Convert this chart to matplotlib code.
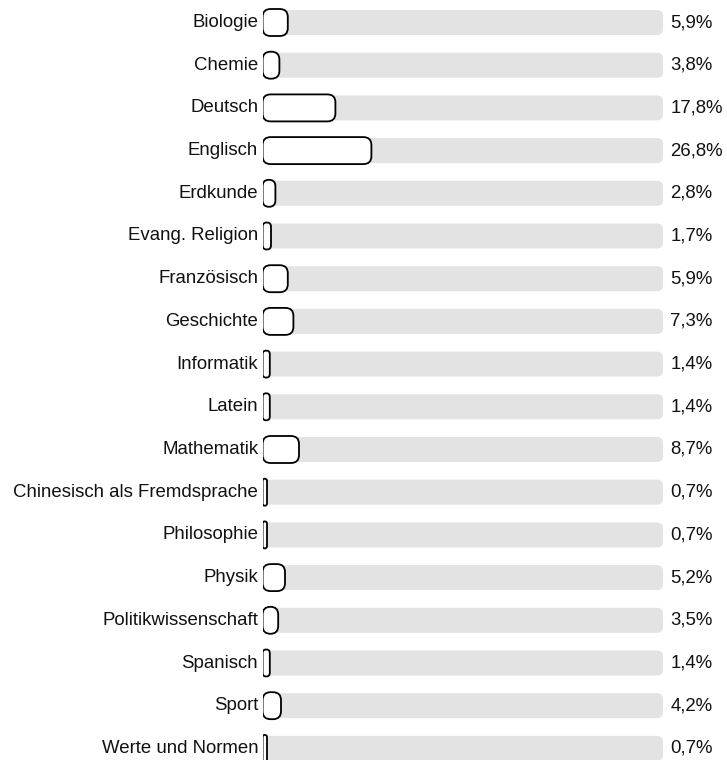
import numpy as np
import matplotlib
matplotlib.use("Agg")
import matplotlib.pyplot as plt
from matplotlib.patches import FancyBboxPatch

plt.rcParams['font.family'] = ['Liberation Sans', 'DejaVu Sans']

faecher = ["Biologie", "Chemie", "Deutsch", "Englisch", "Erdkunde",
           "Evang. Religion", "Französisch", "Geschichte", "Informatik",
           "Latein", "Mathematik", "Chinesisch als Fremdsprache",
           "Philosophie", "Physik", "Politikwissenschaft", "Spanisch",
           "Sport", "Werte und Normen"]
anteil = [5.9, 3.8, 17.8, 26.8, 2.8, 1.7, 5.9, 7.3, 1.4, 1.4, 8.7,
          0.7, 0.7, 5.2, 3.5, 1.4, 4.2, 0.7]

W, H = 727, 760
fig = plt.figure(figsize=(W / 100, H / 100), dpi=100)
# axes: x 0..100 spans the grey track (263..663 px)
ax = fig.add_axes([263 / W, 0, 400 / W, 1])
step = 42.7
top = 22.5
ax.set_xlim(0, 100)
ax.set_ylim((H - top) / step, -top / step)
ax.axis('off')

px_x = 4.0          # px per x unit
px_y = step         # px per y unit
aspect = px_x / px_y

track_h = 25 / px_y
bar_h = 27 / px_y

for i, (name, val) in enumerate(zip(faecher, anteil)):
    tr = FancyBboxPatch((0, i - track_h / 2), 100, track_h,
                        boxstyle="round,pad=0,rounding_size=1.5",
                        mutation_aspect=aspect,
                        fc="#e3e3e3", ec="none", zorder=1)
    ax.add_patch(tr)
    w = val + 0.4
    r = min(2.0, w / 2)
    b = FancyBboxPatch((-0.1, i - bar_h / 2), w, bar_h,
                       boxstyle="round,pad=0,rounding_size=%f" % r,
                       mutation_aspect=aspect,
                       fc="white", ec="black", lw=1.3, zorder=2)
    ax.add_patch(b)
    ax.text(-1.2, i, name, ha='right', va='center', fontsize=13.4,
            color='#111111', clip_on=False)
    ax.text(101.8, i, ("%.1f%%" % val).replace('.', ','), ha='left',
            va='center', fontsize=13.4, color='#111111', clip_on=False)

fig.savefig("out.png", dpi=100)
